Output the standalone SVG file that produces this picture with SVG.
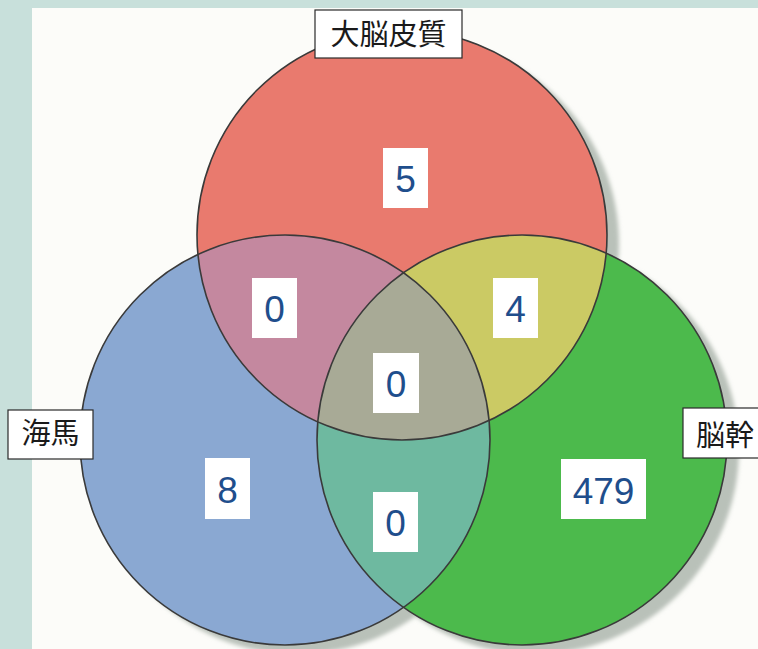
<svg xmlns="http://www.w3.org/2000/svg" width="758" height="649" viewBox="0 0 758 649">
<style>
.lbl{fill:#ffffff;stroke:#2a2a2a;stroke-width:1.2}
.lt{font-family:"Noto Sans CJK JP","Noto Sans CJK SC",sans-serif;font-size:29px;fill:#1a1a1a}
.nb{fill:#ffffff}
.nt{font-family:"Liberation Sans",Arial,sans-serif;font-size:37px;fill:#1f4e8c;text-anchor:middle}
.ol{fill:none;stroke:#3a3a3a;stroke-width:1.6}
.sh{fill:#b9c1b9}
</style>
<defs>
<circle id="cR" cx="402" cy="235" r="205"/>
<circle id="cB" cx="285" cy="440" r="205"/>
<circle id="cG" cx="522" cy="440" r="205"/>
<clipPath id="clipR"><use href="#cR"/></clipPath>
<clipPath id="clipB"><use href="#cB"/></clipPath>
<clipPath id="clipG"><use href="#cG"/></clipPath>
<filter id="blur" x="-10%" y="-10%" width="120%" height="120%"><feGaussianBlur stdDeviation="2"/></filter>
</defs>
<rect x="0" y="0" width="758" height="649" fill="#c8e0db"/>
<rect x="32" y="8" width="726" height="641" fill="#fcfcf9"/>
<g id="shadows" filter="url(#blur)">
<circle class="sh" cx="414" cy="244" r="205"/>
<circle class="sh" cx="297" cy="449" r="205"/>
<circle class="sh" cx="534" cy="449" r="205"/>
</g>
<g id="regions">
<use href="#cB" fill="#8aa8d2"/>
<use href="#cG" fill="#4cba4c"/>
<use href="#cR" fill="#e97a6e"/>
<use href="#cB" fill="#c4889f" clip-path="url(#clipR)"/>
<use href="#cG" fill="#cbca64" clip-path="url(#clipR)"/>
<use href="#cG" fill="#6eb9a0" clip-path="url(#clipB)"/>
<g clip-path="url(#clipR)"><use href="#cG" fill="#a8aa96" clip-path="url(#clipB)"/></g>
</g>
<g id="outlines">
<use href="#cR" class="ol"/>
<use href="#cB" class="ol"/>
<use href="#cG" class="ol"/>
</g>
<g id="connectors"/>
<g id="label-cortex">
<rect class="lbl" x="315" y="10" width="147" height="48"/>
<text class="lt" x="388.5" y="45" text-anchor="middle">大脳皮質</text>
</g>
<g id="label-hippocampus">
<rect class="lbl" x="8" y="410" width="85" height="49"/>
<text class="lt" x="50.5" y="444" text-anchor="middle" font-size="28">海馬</text>
</g>
<g id="label-brainstem">
<rect class="lbl" x="683" y="408" width="80" height="50"/>
<text class="lt" x="696" y="446" font-size="28">脳幹</text>
</g>
<g id="n-cortex">
<rect class="nb" x="383" y="148" width="45" height="60"/>
<text class="nt" x="405.5" y="192">5</text>
</g>
<g id="n-cortex-hippo">
<rect class="nb" x="252" y="278" width="45" height="60"/>
<text class="nt" x="274.5" y="322">0</text>
</g>
<g id="n-cortex-stem">
<rect class="nb" x="493" y="278" width="45" height="60"/>
<text class="nt" x="515.5" y="322">4</text>
</g>
<g id="n-all">
<rect class="nb" x="373" y="353" width="46" height="60"/>
<text class="nt" x="396" y="397">0</text>
</g>
<g id="n-hippo">
<rect class="nb" x="205" y="458" width="45" height="61"/>
<text class="nt" x="227.5" y="503">8</text>
</g>
<g id="n-hippo-stem">
<rect class="nb" x="373" y="492" width="45" height="60"/>
<text class="nt" x="395.5" y="536">0</text>
</g>
<g id="n-stem">
<rect class="nb" x="561" y="459" width="85" height="60"/>
<text class="nt" x="603.5" y="504">479</text>
</g>
</svg>
